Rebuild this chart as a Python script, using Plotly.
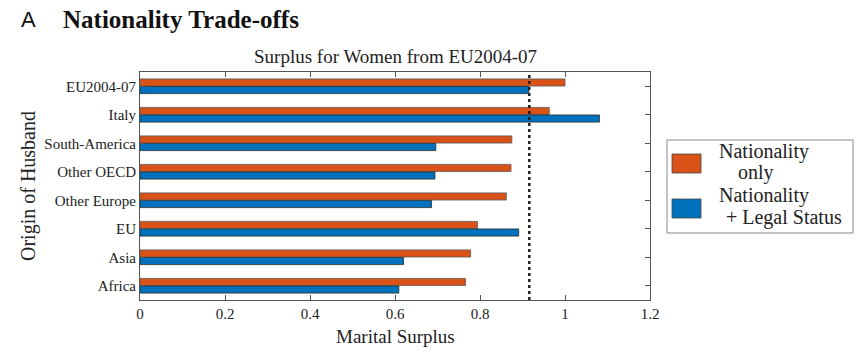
import plotly.graph_objects as go

categories = ["EU2004-07", "Italy", "South-America", "Other OECD", "Other Europe", "EU", "Asia", "Africa"]
nationality_only = [1.000, 0.963, 0.875, 0.873, 0.862, 0.794, 0.778, 0.766]
nationality_legal = [0.915, 1.081, 0.696, 0.694, 0.686, 0.891, 0.620, 0.609]
threshold = 0.916
x_ticks = [0, 0.2, 0.4, 0.6, 0.8, 1.0, 1.2]
x_tick_labels = ["0", "0.2", "0.4", "0.6", "0.8", "1", "1.2"]

ORANGE = "#D95319"
BLUE = "#0072BD"
SERIF = "Liberation Serif, Times New Roman, serif"

fig = go.Figure()
fig.add_trace(go.Bar(y=categories, x=nationality_only, orientation="h", name="Nationality only",
                     marker=dict(color=ORANGE, line=dict(color="#5a5a5a", width=0.8)), showlegend=False))
fig.add_trace(go.Bar(y=categories, x=nationality_legal, orientation="h", name="Nationality + Legal Status",
                     marker=dict(color=BLUE, line=dict(color="#2a2a2a", width=0.8)), showlegend=False))

fig.add_shape(type="line", xref="x", yref="paper", x0=threshold, x1=threshold, y0=0, y1=1,
              line=dict(color="#222222", width=2.5, dash="dot"))

# custom legend (paper coords)
W, H = 865, 357
ml, mr, mt, mb = 140, 215, 72, 57
pw, ph = W - ml - mr, H - mt - mb
def px(x):
    return (x - ml) / pw
def py(y):
    return (H - mb - y) / ph

fig.add_shape(type="rect", xref="paper", yref="paper", x0=px(667), x1=px(853), y0=py(233), y1=py(140),
              line=dict(color="#8a8a8a", width=1), fillcolor="white")
fig.add_shape(type="rect", xref="paper", yref="paper", x0=px(672), x1=px(701), y0=py(173), y1=py(154),
              line=dict(color="#444444", width=0.8), fillcolor=ORANGE)
fig.add_shape(type="rect", xref="paper", yref="paper", x0=px(672), x1=px(701), y0=py(218), y1=py(199),
              line=dict(color="#444444", width=0.8), fillcolor=BLUE)
legend_text = [
    ("Nationality", 717, 151),
    ("only", 736, 172),
    ("Nationality", 717, 195),
    ("+ Legal Status", 724, 217),
]
for t, x, y in legend_text:
    fig.add_annotation(text=t, xref="paper", yref="paper", x=px(x), y=py(y), xanchor="left", yanchor="middle",
                       showarrow=False, font=dict(family=SERIF, size=20, color="#222222"))

# header
fig.add_annotation(text="A", xref="paper", yref="paper", x=px(19), y=py(20), xanchor="left", yanchor="middle",
                   showarrow=False, font=dict(family="Liberation Sans, Arial, sans-serif", size=22, color="#111111"))
fig.add_annotation(text="<b>Nationality Trade-offs</b>", xref="paper", yref="paper", x=px(61), y=py(20),
                   xanchor="left", yanchor="middle", showarrow=False,
                   font=dict(family=SERIF, size=25, color="#111111"))

# axis titles
fig.add_annotation(text="Origin of Husband", xref="paper", yref="paper", x=px(28), y=py(186), xanchor="center",
                   yanchor="middle", textangle=-90, showarrow=False,
                   font=dict(family=SERIF, size=20, color="#222222"))
fig.add_annotation(text="Marital Surplus", xref="paper", yref="paper", x=px(395), y=py(336), xanchor="center",
                   yanchor="middle", showarrow=False,
                   font=dict(family=SERIF, size=19, color="#222222"))
fig.add_annotation(text="Surplus for Women from EU2004-07", xref="paper", yref="paper", x=px(395), y=py(57),
                   xanchor="center", yanchor="middle", showarrow=False,
                   font=dict(family=SERIF, size=19, color="#222222"))

fig.update_layout(
    width=W, height=H,
    margin=dict(l=ml, r=mr, t=mt, b=mb),
    paper_bgcolor="white", plot_bgcolor="white",
    barmode="group", bargap=0.47, bargroupgap=0.05,
    font=dict(family=SERIF, size=15, color="#222222"),
    xaxis=dict(range=[0, 1.2], tickvals=x_ticks, ticktext=x_tick_labels, ticks="inside", ticklen=5,
               tickcolor="#555555", showline=True, linecolor="#555555", linewidth=1, mirror="ticks",
               showgrid=False, zeroline=False, automargin=False,
               tickfont=dict(family=SERIF, size=15)),
    yaxis=dict(categoryorder="array", categoryarray=categories, autorange="reversed",
               ticks="inside", ticklen=5, tickcolor="#555555", showline=True, linecolor="#555555",
               linewidth=1, mirror="ticks", showgrid=False, zeroline=False, automargin=False,
               tickfont=dict(family=SERIF, size=15)),
)

fig.write_html("out.html", config={"displayModeBar": False},
               post_script="document.body.style.margin='0';document.body.style.overflow='hidden';")
